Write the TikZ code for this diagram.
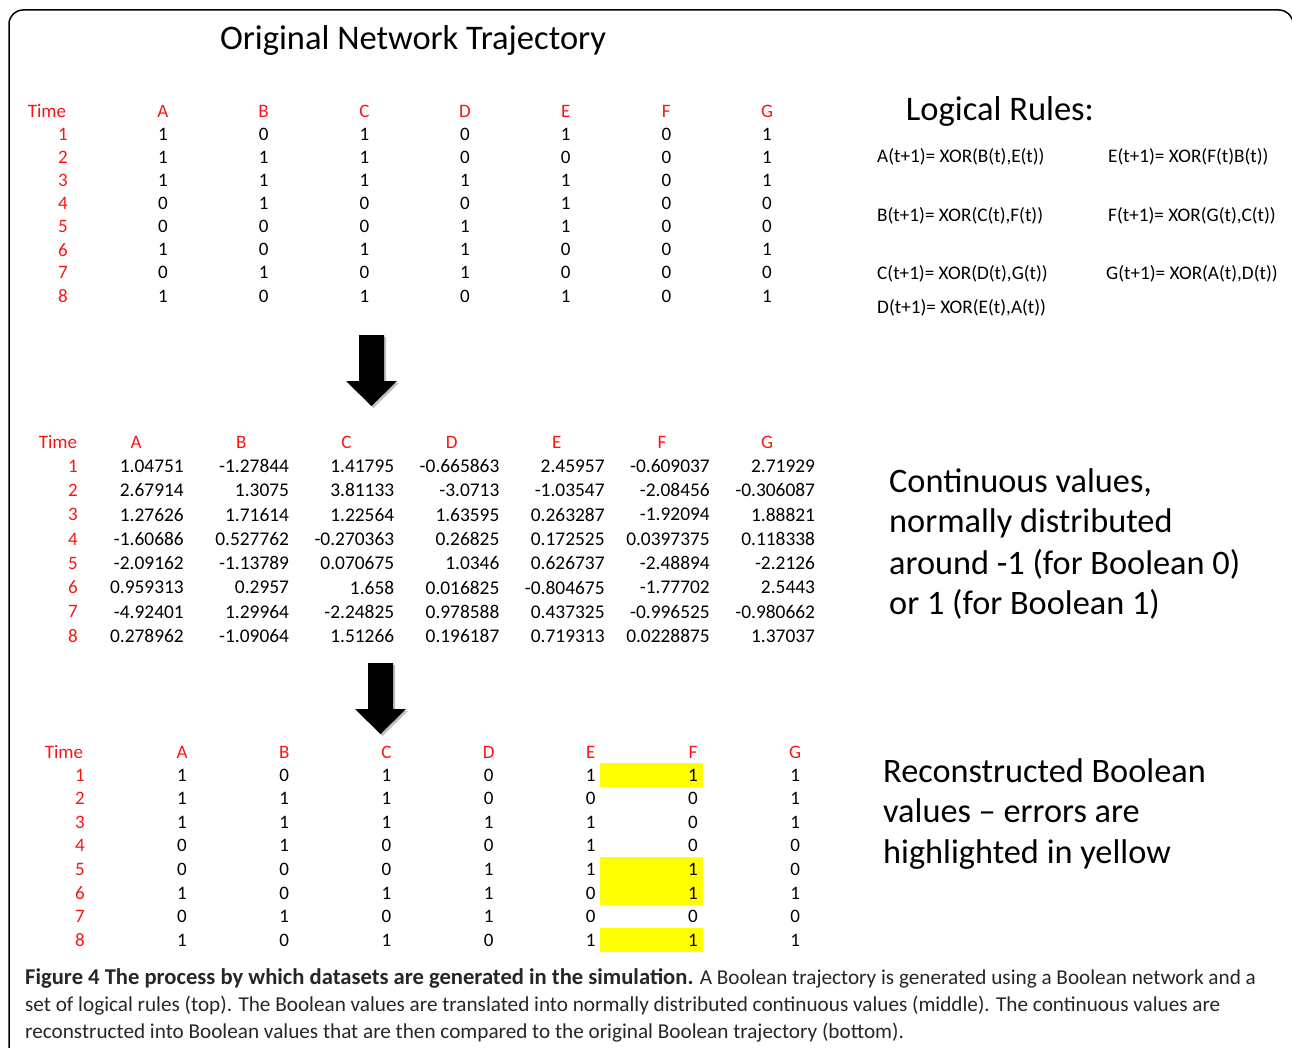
\documentclass[tikz,border=0pt]{standalone}
\usepackage{fontspec}
\setmainfont{Carlito}
\usetikzlibrary{positioning}

\definecolor{hdrred}{RGB}{250,20,20}
\definecolor{errfill}{RGB}{255,255,0}

\tikzset{
  cell/.style={inner sep=0pt, font=\fontsize{19}{19}\selectfont},
  hdr/.style={cell, text=hdrred},
  numcell/.style={cell, anchor=east, font=\fontsize{19.4}{19.4}\selectfont},
  rule/.style={inner sep=0pt, anchor=west, font=\fontsize{19.2}{19.2}\selectfont},
  bigtext/.style={inner sep=0pt, anchor=base west, font=\fontsize{34.3}{34.3}\selectfont},
  captext/.style={inner sep=0pt, anchor=base west, text=black!85, font=\fontsize{21.2}{21.2}\selectfont},
  blockarrow/.style={fill=black},
  arrowshadow/.style={fill=black, opacity=0.25}
}

\begin{document}
\begin{tikzpicture}[x=1pt, y=-1pt]
\useasboundingbox (0,0) rectangle (1292,1048);
%\draw (0,0) grid (1292,1048);
\draw [line width=1.5pt, rounded corners=14pt] (9,1070) -- (9,10) -- (1293,10) -- (1293,1070);

\node [inner sep=0pt, font=\fontsize{34.5}{34.5}\selectfont] (title) at (413,40) {Original Network Trajectory};

% top table: original trajectory
\node [hdr] (top-time) at (47,111) {Time};
\foreach \h [count=\c] in {A,B,C,D,E,F,G}
  \node [hdr] (top-\h) at ({62.3+100.67*\c},111) {\h};
\foreach \row [count=\r] in {{1,0,1,0,1,0,1},{1,1,1,0,0,0,1},{1,1,1,1,1,0,1},{0,1,0,0,1,0,0},
                             {0,0,0,1,1,0,0},{1,0,1,1,0,0,1},{0,1,0,1,0,0,0},{1,0,1,0,1,0,1}} {
  \node [hdr] (top-t\r) at (63,{134+23.14*(\r-1)}) {\r};
  \foreach \v [count=\c] in \row
    \node [cell] (top-\r-\c) at ({62.3+100.67*\c},{134+23.14*(\r-1)}) {\v};
}

% logical rules
\node [inner sep=0pt, font=\fontsize{34.5}{34.5}\selectfont] (rules) at (1000,111) {Logical Rules:};
\node [rule] (rule-a) at (877,157) {A(t+1)= XOR(B(t),E(t))};
\node [rule] (rule-b) at (877,216) {B(t+1)= XOR(C(t),F(t))};
\node [rule] (rule-c) at (877,274) {C(t+1)= XOR(D(t),G(t))};
\node [rule] (rule-d) at (877,308) {D(t+1)= XOR(E(t),A(t))};
\node [rule] (rule-e) at (1108,157) {E(t+1)= XOR(F(t)B(t))};
\node [rule] (rule-f) at (1108,216) {F(t+1)= XOR(G(t),C(t))};
\node [rule] (rule-g) at (1106,274) {G(t+1)= XOR(A(t),D(t))};

% first block arrow
\fill [arrowshadow] (361,337) -- (386,337) -- (386,383) -- (399,383) -- (373.5,408) -- (348,383) -- (361,383) -- cycle;
\fill [blockarrow] (359,335) -- (384,335) -- (384,381) -- (397,381) -- (371.5,406) -- (346,381) -- (359,381) -- cycle;

% middle table: continuous values
\node [hdr] (mid-time) at (58,442) {Time};
\foreach \h [count=\c] in {A,B,C,D,E,F,G}
  \node [hdr] (mid-\h) at ({30.8+105.2*\c},442) {\h};
\foreach \row [count=\r] in {
    {1.04751,-1.27844,1.41795,-0.665863,2.45957,-0.609037,2.71929},
    {2.67914,1.3075,3.81133,-3.0713,-1.03547,-2.08456,-0.306087},
    {1.27626,1.71614,1.22564,1.63595,0.263287,-1.92094,1.88821},
    {-1.60686,0.527762,-0.270363,0.26825,0.172525,0.0397375,0.118338},
    {-2.09162,-1.13789,0.070675,1.0346,0.626737,-2.48894,-2.2126},
    {0.959313,0.2957,1.658,0.016825,-0.804675,-1.77702,2.5443},
    {-4.92401,1.29964,-2.24825,0.978588,0.437325,-0.996525,-0.980662},
    {0.278962,-1.09064,1.51266,0.196187,0.719313,0.0228875,1.37037}} {
  \node [hdr, anchor=east] (mid-t\r) at (78,{466+24.3*(\r-1)}) {\r};
  \foreach \v [count=\c] in \row
    \node [numcell] (mid-\r-\c) at ({78.8+105.2*\c},{466+24.3*(\r-1)}) {\v};
}

\node [bigtext] (cont-1) at (889,492) {Continuous values,};
\node [bigtext] (cont-2) at (889,532) {normally distributed};
\node [bigtext] (cont-3) at (889,574) {around -1 (for Boolean 0)};
\node [bigtext] (cont-4) at (889,614) {or 1 (for Boolean 1)};

% second block arrow
\fill [arrowshadow] (370,665) -- (395,665) -- (395,711) -- (408,711) -- (382.5,736) -- (357,711) -- (370,711) -- cycle;
\fill [blockarrow] (368,663) -- (393,663) -- (393,709) -- (406,709) -- (380.5,734) -- (355,709) -- (368,709) -- cycle;

% bottom table: reconstructed values, errors in yellow
\foreach \r in {1,5,6,8}
  \fill [errfill] (600,{775+23.6*(\r-1)-12}) rectangle (703,{775+23.6*(\r-1)+12});
\node [hdr] (bot-time) at (64,752) {Time};
\foreach \h [count=\c] in {A,B,C,D,E,F,G}
  \node [hdr] (bot-\h) at ({79.8+102.2*\c},752) {\h};
\foreach \row [count=\r] in {{1,0,1,0,1,1,1},{1,1,1,0,0,0,1},{1,1,1,1,1,0,1},{0,1,0,0,1,0,0},
                             {0,0,0,1,1,1,0},{1,0,1,1,0,1,1},{0,1,0,1,0,0,0},{1,0,1,0,1,1,1}} {
  \node [hdr] (bot-t\r) at (80,{775+23.6*(\r-1)}) {\r};
  \foreach \v [count=\c] in \row
    \node [cell] (bot-\r-\c) at ({79.8+102.2*\c},{775+23.6*(\r-1)}) {\v};
}

\node [bigtext] (rec-1) at (883,782) {Reconstructed Boolean};
\node [bigtext] (rec-2) at (883,822) {values – errors are};
\node [bigtext] (rec-3) at (883,863) {highlighted in yellow};

% caption
\node [captext] (cap-1) at (25,984) {{\fontsize{22.6}{22.6}\selectfont\bfseries Figure 4 The process by which datasets are generated in the simulation.} A Boolean trajectory is generated using a Boolean network and a};
\node [captext] (cap-2) at (25,1011) {set of logical rules (top). The Boolean values are translated into normally distributed continuous values (middle). The continuous values are};
\node [captext] (cap-3) at (25,1038) {reconstructed into Boolean values that are then compared to the original Boolean trajectory (bottom).};
\end{tikzpicture}
\end{document}
